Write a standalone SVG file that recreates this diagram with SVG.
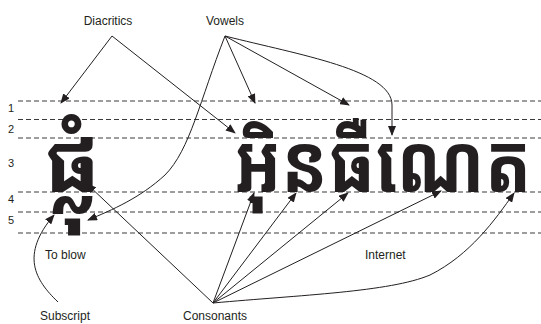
<svg xmlns="http://www.w3.org/2000/svg" width="541" height="324" viewBox="0 0 541 324">
<style>
.lbl{font-family:"Liberation Sans",Arial,sans-serif;font-size:12px;fill:#231f20}
.num{font-family:"Liberation Sans",Arial,sans-serif;font-size:11px;fill:#231f20}
.kh{font-family:"Noto Sans Khmer","Noto Serif Khmer","Khmer OS","Khmer OS System",Hanuman,sans-serif;font-weight:bold;font-size:82px;fill:#231f20}
.guide{stroke:#3a3a3a;stroke-width:1;stroke-dasharray:5,3;fill:none}
.conn{stroke:#231f20;stroke-width:1;fill:none;marker-end:url(#ah)}
</style>
<defs>
<marker id="ah" markerUnits="userSpaceOnUse" markerWidth="10" markerHeight="8" refX="9" refY="4" orient="auto">
<path d="M0,0 L10,4 L0,8 Z" fill="#231f20"/>
</marker>
</defs>
<rect width="541" height="324" fill="#fff"/>
<g id="guides">
<line class="guide" x1="18" y1="101" x2="541" y2="101"/>
<line class="guide" x1="18" y1="119.5" x2="541" y2="119.5"/>
<line class="guide" x1="18" y1="138" x2="541" y2="138"/>
<line class="guide" x1="18" y1="192" x2="541" y2="192"/>
<line class="guide" x1="18" y1="212" x2="541" y2="212"/>
<line class="guide" x1="18" y1="233" x2="541" y2="233"/>
<text class="num" x="8" y="112">1</text>
<text class="num" x="8" y="133">2</text>
<text class="num" x="8" y="167">3</text>
<text class="num" x="8" y="203">4</text>
<text class="num" x="8" y="224">5</text>
</g>
<g id="word-blow">
<text class="kh" x="44" y="192">ផ្លុំ</text>
<text class="lbl" x="45" y="259">To blow</text>
</g>
<g id="word-internet">
<text class="kh" transform="translate(234,192) scale(0.86,1)" x="0" y="0" textLength="346" lengthAdjust="spacingAndGlyphs">អ៊ិនធឺណេត</text>
<text class="lbl" x="365" y="259">Internet</text>
</g>
<g id="diacritics"><text class="lbl" x="108" y="25" text-anchor="middle">Diacritics</text></g>
<g id="vowels"><text class="lbl" x="225" y="25" text-anchor="middle">Vowels</text></g>
<g id="subscript"><text class="lbl" x="40" y="320">Subscript</text></g>
<g id="consonants"><text class="lbl" x="183" y="320">Consonants</text></g>
<g id="connectors">
<path class="conn" d="M112,36 L61,103"/>
<path class="conn" d="M112,36 L235,133"/>
<path class="conn" d="M225,36 L255,103"/>
<path class="conn" d="M225,36 L349,105"/>
<path class="conn" d="M225,36 C300,55 392,70 392,105 L392,135"/>
<path class="conn" d="M225,36 C200,100 190,150 165,175 C140,198 112,210 88,220"/>
<path class="conn" d="M213,303 L87,184"/>
<path class="conn" d="M213,303 L254,193"/>
<path class="conn" d="M213,303 L296,193"/>
<path class="conn" d="M213,303 L348,193"/>
<path class="conn" d="M213,303 L441,191"/>
<path class="conn" d="M213,303 C300,295 390,292 430,275 C470,255 495,220 514,193"/>
<path class="conn" d="M58,302 C35,280 20,255 54,215"/>
</g>
</svg>
